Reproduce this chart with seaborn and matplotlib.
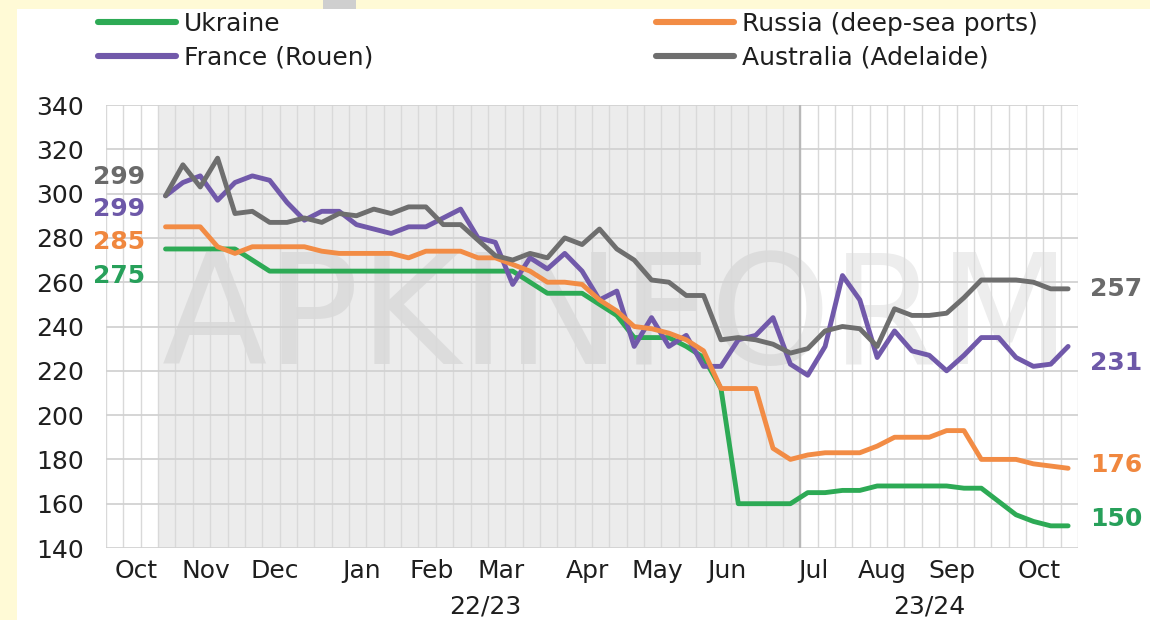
import numpy as np
import pandas as pd
import matplotlib
matplotlib.use("Agg")
import matplotlib.pyplot as plt
import seaborn as sns
from matplotlib.patches import Rectangle
from matplotlib.lines import Line2D
from matplotlib.transforms import ScaledTranslation, blended_transform_factory

# ---------------- data (weekly prices, USD/t) ----------------
ukraine = [275, 275, 275, 275, 275, 270, 265, 265, 265, 265,
           265, 265, 265, 265, 265, 265, 265, 265, 265, 265,
           265, 260, 255, 255, 255, 250, 245, 235, 235, 235,
           231, 226, 212, 160, 160, 160, 160, 165, 165, 166,
           166, 168, 168, 168, 168, 168, 167, 167, 161, 155,
           152, 150, 150]
russia = [285, 285, 285, 276, 273, 276, 276, 276, 276, 274,
          273, 273, 273, 273, 271, 274, 274, 274, 271, 271,
          268, 265, 260, 260, 259, 252, 247, 240, 239, 237,
          234, 229, 212, 212, 212, 185, 180, 182, 183, 183,
          183, 186, 190, 190, 190, 193, 193, 180, 180, 180,
          178, 177, 176]
france = [299, 305, 308, 297, 305, 308, 306, 296, 288, 292,
          292, 286, 284, 282, 285, 285, 289, 293, 280, 278,
          259, 271, 266, 273, 265, 252, 256, 231, 244, 231,
          236, 222, 222, 234, 236, 244, 223, 218, 231, 263,
          252, 226, 238, 229, 227, 220, 227, 235, 235, 226,
          222, 223, 231]
australia = [299, 313, 303, 316, 291, 292, 287, 287, 289, 287,
             291, 290, 293, 291, 294, 294, 286, 286, 279, 272,
             270, 273, 271, 280, 277, 284, 275, 270, 261, 260,
             254, 254, 234, 235, 234, 232, 228, 230, 238, 240,
             239, 231, 248, 245, 245, 246, 253, 261, 261, 261,
             260, 257, 257]

series_names = ["Ukraine", "France (Rouen)", "Russia (deep-sea ports)", "Australia (Adelaide)"]
series_values = [ukraine, france, russia, australia]
series_colors = ["#2DAA55", "#7159AA", "#F28C45", "#6E6E6E"]
label_colors = ["#27A05A", "#6D58A8", "#F0873E", "#6A6A6A"]

month_labels = ["Oct", "Nov", "Dec", "Jan", "Feb", "Mar", "Apr", "May", "Jun",
                "Jul", "Aug", "Sep", "Oct"]
month_gridline = [-2, 2, 6, 11, 15, 19, 24, 28, 32, 37, 41, 45, 50]
season_labels = ["22/23", "23/24"]
y_ticks = [140, 160, 180, 200, 220, 240, 260, 280, 300, 320, 340]

for s in series_values:
    assert len(s) == 53

# ---------------- layout ----------------
W, H = 1150, 620
GRID_OFF = -0.43          # weekly gridlines sit slightly left of the data points

sns.set_style("white")
plt.rcParams["font.family"] = ["DejaVu Sans"]

fig = plt.figure(figsize=(W / 100, H / 100), dpi=100, facecolor="#FFFAD6")
fig.patches.append(Rectangle((17 / W, 0), 1, 1 - 9 / H, transform=fig.transFigure,
                             facecolor="white", edgecolor="none", zorder=-10))
fig.patches.append(Rectangle((323 / W, 1 - 9 / H), 33 / W, 9 / H, transform=fig.transFigure,
                             facecolor="#cfcfcf", edgecolor="none", zorder=-9))

ax = fig.add_axes([106 / W, 1 - 548 / H, (1078 - 106) / W, (548 - 105) / H])
ax.set_facecolor("white")

# long-format table
frames = []
for name, vals in zip(series_names, series_values):
    frames.append(pd.DataFrame({"week": np.arange(len(vals)), "price": vals, "series": name}))
df = pd.concat(frames, ignore_index=True)

# shaded 22/23 season
shade_start = 0 + GRID_OFF
shade_end = month_gridline[9] + GRID_OFF
ax.axvspan(shade_start, shade_end, color="#ececec", zorder=0.2, lw=0)
ax.axvline(shade_end, color="#b8b8b8", lw=1.6, zorder=0.6)

# watermark
ax.text(617 / W, 1 - 364 / H, "APKINFORM", transform=fig.transFigure, ha="center",
        va="baseline", fontsize=111, fontweight="normal", color="#808080", alpha=0.14,
        zorder=0.3)

sns.lineplot(data=df, x="week", y="price", hue="series", hue_order=series_names,
             palette=dict(zip(series_names, series_colors)), linewidth=3.5,
             ax=ax, legend=False, zorder=3, solid_joinstyle="round", solid_capstyle="round")

ax.set_xlim(-3 + GRID_OFF, 53 + GRID_OFF)
ax.set_ylim(140, 340)
ax.set_yticks(y_ticks)
ax.set_xticks([g + GRID_OFF for g in month_gridline])
ax.set_xticklabels(month_labels)
ax.set_xticks([g + GRID_OFF for g in range(-3, 54)], minor=True)
ax.set_xlabel("")
ax.set_ylabel("")

ax.set_axisbelow(True)
ax.grid(True, which="both", axis="x", color="#d9d9d9", lw=1.0)
ax.grid(True, which="major", axis="y", color="#d2d2d2", lw=1.3)
for sp in ax.spines.values():
    sp.set_visible(False)

ax.tick_params(axis="x", which="major", direction="in", length=9, width=2.2,
               color="#6a6a6a", labelsize=18, labelcolor="#1e1e1e", pad=8)
ax.tick_params(axis="x", which="minor", length=0)
ax.tick_params(axis="y", length=0, labelsize=18, labelcolor="#1e1e1e", pad=16)
for lab in ax.get_xticklabels():
    lab.set_transform(lab.get_transform() + ScaledTranslation(0.13, 0, fig.dpi_scale_trans))

# season labels
tr = blended_transform_factory(ax.transData, ax.transAxes)
ax.text(18.4, -0.131, season_labels[0], transform=tr, ha="center", va="center",
        fontsize=18, color="#1e1e1e")
ax.text(44.0, -0.131, season_labels[1], transform=tr, ha="center", va="center",
        fontsize=18, color="#1e1e1e")

# start / end value labels
start_offsets = [-12, -6, -7, 8.5]
end_offsets = [3, -7.5, 1.5, 0]
for vals, col, so, eo in zip(series_values, label_colors, start_offsets, end_offsets):
    ax.text(-1.15, vals[0] + so, f"{vals[0]}", ha="right", va="center", fontsize=18,
            fontweight="bold", color=col, clip_on=False)
    ax.text(53.25, vals[-1] + eo, f"{vals[-1]}", ha="left", va="center", fontsize=18,
            fontweight="bold", color=col, clip_on=False)

# legend (two columns)
handles = [Line2D([], [], color=c, lw=4.4, solid_capstyle="round") for c in series_colors]
common = dict(loc="upper left", frameon=False, fontsize=18, handlelength=3.1,
              handletextpad=0.35, labelspacing=0.4, borderpad=0, borderaxespad=0,
              labelcolor="#1e1e1e")
fig.legend(handles[:2], series_names[:2], bbox_to_anchor=(98 / W, 1 - 12 / H), **common)
fig.legend(handles[2:], series_names[2:], bbox_to_anchor=(656 / W, 1 - 12 / H), **common)

fig.savefig("out.png", dpi=100, facecolor=fig.get_facecolor())
